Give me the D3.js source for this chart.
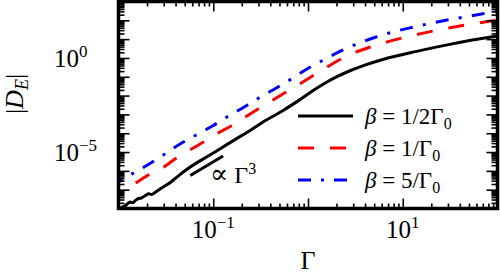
<!DOCTYPE html>
<html>
<head>
<meta charset="utf-8">
<script src="https://cdn.jsdelivr.net/npm/d3@7"></script>
<style>
  body { margin: 0; background: #fff; }
  text { font-family: "Liberation Serif", "DejaVu Serif", serif; fill: #000; }
</style>
</head>
<body>
<svg id="chart" width="500" height="275"></svg>
<script>
// Gamma on x, |D_E| on y (both log)
const gammaHalf = [0.0100, 0.0112, 0.0119, 0.0126, 0.0134, 0.0141, 0.0151, 0.0163, 0.0174, 0.0192, 0.0209, 0.0224,
    0.0245, 0.0282, 0.0313, 0.0355, 0.0398, 0.0507, 0.1, 0.158, 0.245, 0.355, 0.546, 0.794, 1.245, 1.585, 1.995,
    2.77, 3.98, 6.15, 14.0, 31.3, 82.4, 100];
const dHalf = [8.9e-9, 1.26e-8, 1.45e-8, 1.9e-8, 2.2e-8, 2.0e-8, 2.7e-8, 3.4e-8, 3.6e-8, 4.9e-8, 6.0e-8, 5.5e-8,
    7.4e-8, 1.2e-7, 1.66e-7, 2.5e-7, 4.0e-7, 1.05e-6, 8.9e-6, 3.7e-5, 1.41e-4, 4.7e-4, 1.62e-3, 5.4e-3, 2.51e-2,
    5.25e-2, 9.77e-2, 0.209, 0.417, 0.83, 2.24, 5.25, 12.6, 14.5];

const gammaOne = [0.01, 0.0151, 0.0208, 0.030, 0.0398, 0.0597, 0.079, 0.109, 0.151, 0.217, 0.367, 0.824, 1.57,
    2.24, 3.16, 4.47, 6.21, 13.9, 31.3, 85.7, 100];
const dOne = [6.5e-8, 2.24e-7, 6.2e-7, 1.58e-6, 4.4e-6, 1.51e-5, 3.4e-5, 9.3e-5, 2.3e-4, 7.2e-4, 3.7e-3, 4.3e-2,
    0.316, 0.89, 2.0, 3.72, 6.17, 17.4, 39.8, 91.2, 102];

const gammaFive = [0.01, 0.0140, 0.0207, 0.030, 0.045, 0.0647, 0.1, 0.139, 0.226, 0.313, 0.478, 0.673, 1.026,
    1.39, 2.20, 3.20, 5.14, 7.60, 11.9, 17.7, 28.4, 43.2, 67.9, 100];
const dFive = [2.6e-7, 7.1e-7, 2.2e-6, 7.1e-6, 2.75e-5, 7.6e-5, 2.57e-4, 7.2e-4, 3.0e-3, 8.3e-3, 2.8e-2, 7.9e-2,
    0.30, 0.69, 2.29, 5.25, 12.6, 22.9, 39.8, 61.7, 100, 145, 219, 302];

// Gamma^3 guide segment
const guideGamma = [0.0573, 0.127];
const guideD = [5.65e-7, 6.14e-6];

const xMajor = [0.01, 0.1, 1, 10, 100];
const xLabels = [[0.1, '−1'], [10, '1']];
const yLabels = [[1, '0'], [1e-5, '−5']];
const legendNames = ['1/2', '1/', '5/'];

const svg = d3.select('#chart');
const pLeft = 118.5, pRight = 497.5, pTop = 1.5, pBottom = 208.5;

const x = d3.scaleLog().domain([0.01, 100]).range([pLeft, pRight]);
const y = d3.scaleLog().domain([1e-8, 1e3]).range([pBottom, pTop]);

function minors(lo, hi) {
    const out = [];
    for (let e = lo; e < hi; e++) {
        for (let k = 2; k <= 9; k++) out.push(k * Math.pow(10, e));
    }
    return out;
}
const yMajor = d3.range(-8, 4).map(e => Math.pow(10, e));

// clip for the curves
svg.append('clipPath').attr('id', 'plotclip')
    .append('rect').attr('x', pLeft).attr('y', pTop).attr('width', pRight - pLeft).attr('height', pBottom - pTop);

const lineGen = d3.line()
    .x(d => x(d[0]))
    .y(d => y(d[1]))
    .curve(d3.curveMonotoneX);

const curves = svg.append('g').attr('clip-path', 'url(#plotclip)');

curves.append('path')
    .datum(d3.zip(gammaHalf, dHalf))
    .attr('d', lineGen)
    .attr('fill', 'none').attr('stroke', '#000').attr('stroke-width', 3);

curves.append('path')
    .datum(d3.zip(gammaOne, dOne))
    .attr('d', lineGen)
    .attr('fill', 'none').attr('stroke', '#ff0000').attr('stroke-width', 3)
    .attr('stroke-dasharray', '16,16').attr('stroke-dashoffset', 12);

curves.append('path')
    .datum(d3.zip(gammaFive, dFive))
    .attr('d', lineGen)
    .attr('fill', 'none').attr('stroke', '#0000ff').attr('stroke-width', 3)
    .attr('stroke-dasharray', '13,10.3,3,10.3').attr('stroke-dashoffset', 8.4);

svg.append('path')
    .datum(d3.zip(guideGamma, guideD))
    .attr('d', d3.line().x(d => x(d[0])).y(d => y(d[1])))
    .attr('fill', 'none').attr('stroke', '#000').attr('stroke-width', 3);

const ann = svg.append('text').attr('x', 210).attr('y', 183).style('font-size', '24px');
ann.append('tspan').style('font-family', 'DejaVu Serif').style('font-size', '27px').text('∝');
ann.append('tspan').text(' Γ');
ann.append('tspan').attr('dy', -9).style('font-size', '16px').text('3');

// ticks, all pointing inward
function tickAxis(axis, vals, size, tx) {
    svg.append('g')
        .attr('transform', tx)
        .call(axis.tickValues(vals).tickSize(size).tickFormat(''))
        .call(g => g.select('.domain').remove())
        .call(g => g.selectAll('line').attr('stroke', '#000').attr('stroke-width', 1.6));
}
const xMinor = minors(-2, 2);
const yMinor = minors(-8, 3);
tickAxis(d3.axisBottom(x), xMajor, -10, `translate(0,${pBottom})`);
tickAxis(d3.axisBottom(x), xMinor, -5, `translate(0,${pBottom})`);
tickAxis(d3.axisTop(x), xMajor, -10, `translate(0,${pTop})`);
tickAxis(d3.axisTop(x), xMinor, -5, `translate(0,${pTop})`);
tickAxis(d3.axisLeft(y), yMajor, -11, `translate(${pLeft},0)`);
tickAxis(d3.axisLeft(y), yMinor, -6, `translate(${pLeft},0)`);
tickAxis(d3.axisRight(y), yMajor, -11, `translate(${pRight},0)`);
tickAxis(d3.axisRight(y), yMinor, -6, `translate(${pRight},0)`);

svg.append('rect')
    .attr('x', pLeft).attr('y', pTop).attr('width', pRight - pLeft).attr('height', pBottom - pTop)
    .attr('fill', 'none').attr('stroke', '#000').attr('stroke-width', 3.5);

// tick labels
xLabels.forEach(([v, p]) => {
    const t = svg.append('text').attr('x', x(v)).attr('y', 238)
        .attr('text-anchor', 'middle').style('font-size', '25px');
    t.append('tspan').text('10');
    t.append('tspan').attr('dy', -10).style('font-size', '17px').text(p);
});
yLabels.forEach(([v, p]) => {
    const t = svg.append('text').attr('x', 54).attr('y', y(v) + 9).style('font-size', '25px');
    t.append('tspan').text('10');
    t.append('tspan').attr('dy', -10).style('font-size', '17px').text(p);
});

// axis titles
svg.append('text').attr('x', 308).attr('y', 269).attr('text-anchor', 'middle')
    .style('font-size', '26px').text('Γ');
const yl = svg.append('text').attr('transform', 'translate(23,94) rotate(-90)')
    .attr('text-anchor', 'middle').style('font-size', '26px');
yl.append('tspan').text('|');
yl.append('tspan').style('font-style', 'italic').text('D');
yl.append('tspan').attr('dy', 5).style('font-style', 'italic').style('font-size', '18px').text('E');
yl.append('tspan').attr('dy', -5).text('|');

// legend
const legY = [116, 148, 180];
const legStyle = [
    { c: '#000', dash: null },
    { c: '#ff0000', dash: '16,16' },
    { c: '#0000ff', dash: '13,10,3,10' },
];
legendNames.forEach((name, i) => {
    const ln = svg.append('line')
        .attr('x1', 298).attr('x2', 353).attr('y1', legY[i]).attr('y2', legY[i])
        .attr('stroke', legStyle[i].c).attr('stroke-width', 3);
    if (legStyle[i].dash) ln.attr('stroke-dasharray', legStyle[i].dash);
    const t = svg.append('text').attr('x', 365).attr('y', legY[i] + 8).style('font-size', '23px');
    t.append('tspan').style('font-style', 'italic').text('β');
    t.append('tspan').text(' = ' + name + 'Γ');
    t.append('tspan').attr('dy', 5).style('font-size', '16px').text('0');
});
</script>
</body>
</html>
